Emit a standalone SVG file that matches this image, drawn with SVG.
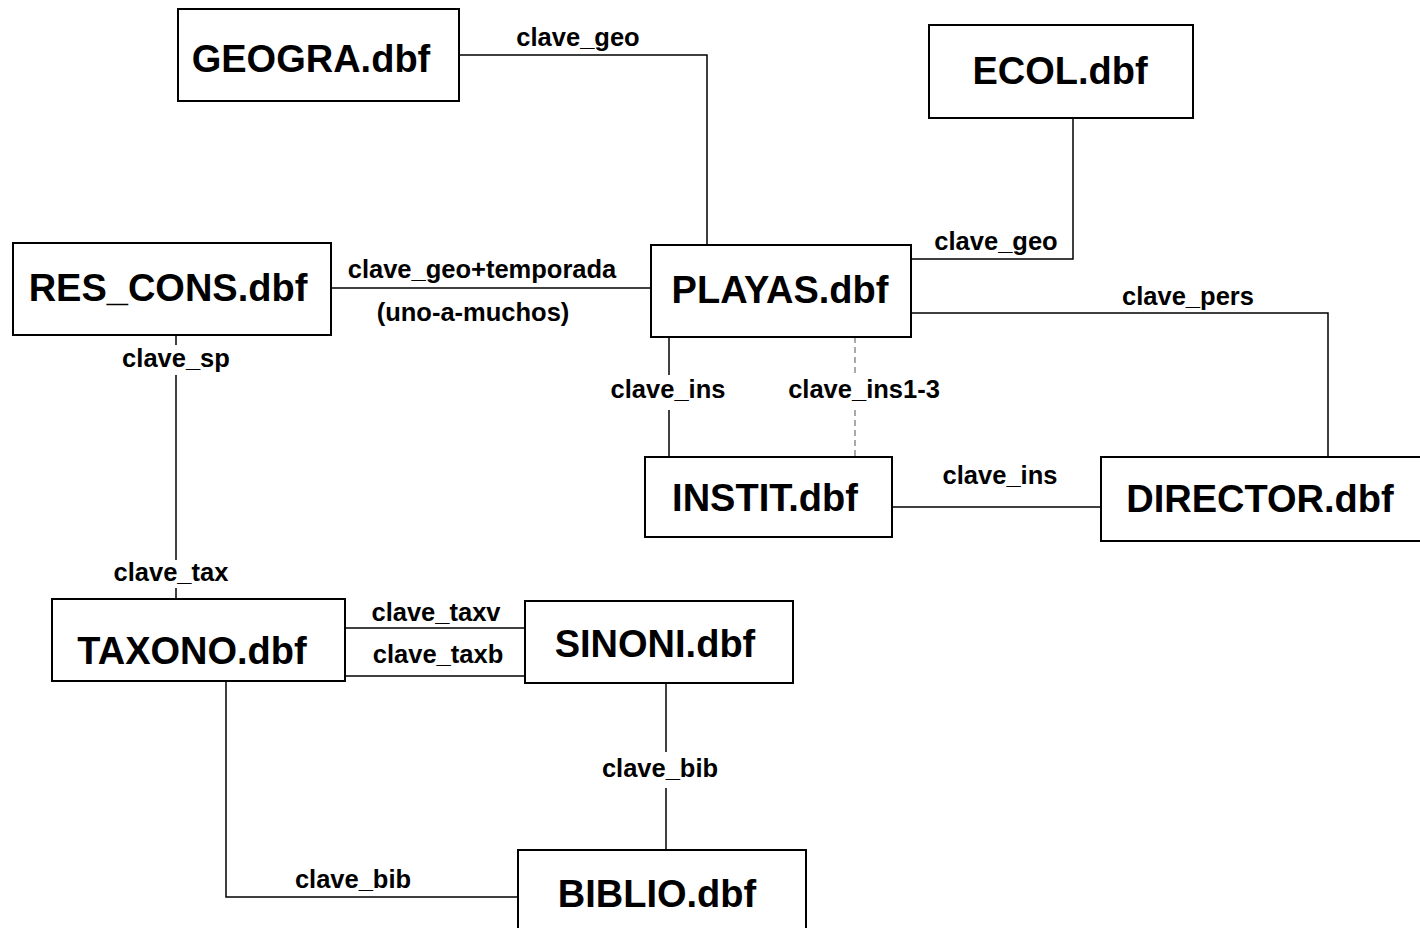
<svg xmlns="http://www.w3.org/2000/svg" width="1420" height="928" viewBox="0 0 1420 928">
<style>
.box{fill:#fff;stroke:#000;stroke-width:2}
.name{font-family:"Liberation Sans",Arial,sans-serif;font-weight:bold;font-size:38px;text-anchor:middle;fill:#000}
.lbl{font-family:"Liberation Sans",Arial,sans-serif;font-weight:bold;font-size:25.5px;text-anchor:middle;fill:#000}
.ln{fill:none;stroke:#000;stroke-width:1.5}
.dash{fill:none;stroke:#555;stroke-width:1;stroke-dasharray:6 4}
</style>
<rect width="1420" height="928" fill="#fff"/>
<g id="connectors">
<polyline class="ln" points="459,55 707,55 707,245"/>
<polyline class="ln" points="1073,118 1073,259 911,259"/>
<line class="ln" x1="331" y1="288" x2="651" y2="288"/>
<polyline class="ln" points="911,313 1328,313 1328,457"/>
<line class="ln" x1="669" y1="337" x2="669" y2="375"/>
<line class="ln" x1="669" y1="410" x2="669" y2="457"/>
<line class="dash" x1="855" y1="337" x2="855" y2="375"/>
<line class="dash" x1="855" y1="410" x2="855" y2="457"/>
<line class="ln" x1="892" y1="507" x2="1101" y2="507"/>
<line class="ln" x1="176" y1="335" x2="176" y2="345"/>
<line class="ln" x1="176" y1="375" x2="176" y2="560"/>
<line class="ln" x1="176" y1="588" x2="176" y2="599"/>
<line class="ln" x1="345" y1="628" x2="525" y2="628"/>
<line class="ln" x1="345" y1="676" x2="525" y2="676"/>
<line class="ln" x1="666" y1="683" x2="666" y2="752"/>
<line class="ln" x1="666" y1="788" x2="666" y2="850"/>
<polyline class="ln" points="226,681 226,897 518,897"/>
<text class="lbl" x="578" y="46">clave_geo</text>
<text class="lbl" x="996" y="250">clave_geo</text>
<text class="lbl" x="482" y="278">clave_geo+temporada</text>
<text class="lbl" x="473" y="321">(uno-a-muchos)</text>
<text class="lbl" x="1188" y="305">clave_pers</text>
<text class="lbl" x="668" y="398">clave_ins</text>
<text class="lbl" x="864" y="398">clave_ins1-3</text>
<text class="lbl" x="1000" y="484">clave_ins</text>
<text class="lbl" x="176" y="367">clave_sp</text>
<text class="lbl" x="171" y="581">clave_tax</text>
<text class="lbl" x="436" y="621">clave_taxv</text>
<text class="lbl" x="438" y="663">clave_taxb</text>
<text class="lbl" x="660" y="777">clave_bib</text>
<text class="lbl" x="353" y="888">clave_bib</text>
</g>
<g id="geogra"><rect class="box" x="178" y="9" width="281" height="92"/><text class="name" x="311" y="72">GEOGRA.dbf</text></g>
<g id="ecol"><rect class="box" x="929" y="25" width="264" height="93"/><text class="name" x="1060" y="84">ECOL.dbf</text></g>
<g id="res_cons"><rect class="box" x="13" y="243" width="318" height="92"/><text class="name" x="168" y="301">RES_CONS.dbf</text></g>
<g id="playas"><rect class="box" x="651" y="245" width="260" height="92"/><text class="name" x="780" y="303">PLAYAS.dbf</text></g>
<g id="instit"><rect class="box" x="645" y="457" width="247" height="80"/><text class="name" x="765" y="511">INSTIT.dbf</text></g>
<g id="director"><rect class="box" x="1101" y="457" width="325" height="84"/><text class="name" x="1260" y="512">DIRECTOR.dbf</text></g>
<g id="taxono"><rect class="box" x="52" y="599" width="293" height="82"/><text class="name" x="192" y="664">TAXONO.dbf</text></g>
<g id="sinoni"><rect class="box" x="525" y="601" width="268" height="82"/><text class="name" x="655" y="657">SINONI.dbf</text></g>
<g id="biblio"><rect class="box" x="518" y="850" width="288" height="90"/><text class="name" x="657" y="907">BIBLIO.dbf</text></g>
</svg>
